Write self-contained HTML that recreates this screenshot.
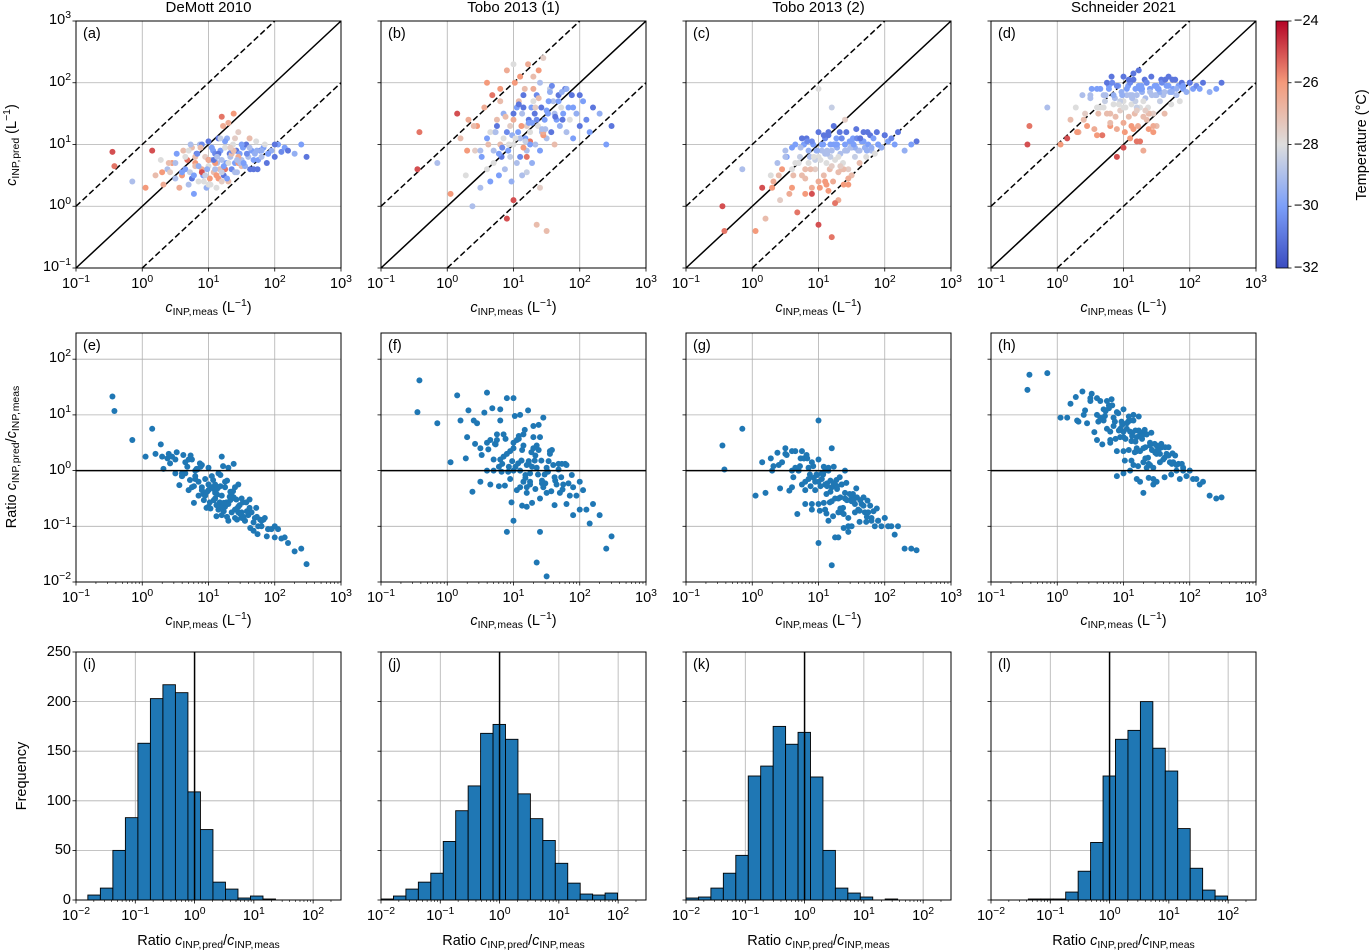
<!DOCTYPE html>
<html><head><meta charset="utf-8">
<style>
body{margin:0;background:#fff;}
#wrap{position:relative;width:1371px;height:952px;overflow:hidden;font-family:"Liberation Sans","DejaVu Sans",sans-serif;color:#000;}
svg{position:absolute;left:0;top:0;}
.t{position:absolute;white-space:nowrap;font-size:14.5px;line-height:1;}
.t sup{font-size:72%;vertical-align:0;position:relative;top:-0.55em;}
.t sub{font-size:72%;vertical-align:0;position:relative;top:0.3em;}
.c{transform:translateX(-50%);}
.r{transform:translateX(-100%);}
</style></head><body>
<div id="wrap">
<svg id="svg" width="1371" height="952" xmlns="http://www.w3.org/2000/svg"></svg>
</div>
<script>
// ---- shared data (log10 of concentrations) ----
const measLog = [-0.45,-0.42,-0.15,0.05,0.15,0.2,0.28,0.32,0.38,0.42,
0.45,0.5,0.52,0.56,0.6,0.62,0.65,0.68,0.7,0.72,
0.75,0.78,0.8,0.82,0.85,0.87,0.9,0.92,0.95,0.97,
1.0,1.0,1.02,1.05,1.07,1.08,1.1,1.12,1.13,1.15,
1.17,1.18,1.2,1.22,1.23,1.25,1.27,1.28,1.3,1.32,
1.33,1.35,1.37,1.38,1.4,1.42,1.43,1.45,1.47,1.5,
1.52,1.55,1.57,1.6,1.62,1.65,1.68,1.7,1.72,1.75,
1.78,1.8,1.83,1.85,1.88,1.9,1.95,2.0,2.05,2.1,
2.15,2.2,2.3,2.4,2.48,0.9,1.1,1.3,1.5,1.2,
0.6,0.8,1.0,1.15,1.25,1.35,1.45,1.0,1.2,1.4,
0.5,0.6,0.7,0.75,0.8,0.85,0.9,0.95,1.0,1.05,
1.1,1.15,1.2,1.25,1.3,1.35,1.4,1.45,1.5,1.55,
0.65,0.78,0.88,0.98,1.08,1.18,1.28,1.38,1.48,1.58,
1.62,1.68,1.74,1.8,1.9,2.0,0.3,0.4,1.03,1.13,
1.23,1.33,1.43,0.93,0.83,0.73,1.53,1.63,1.73,1.12];
const temperature = [-25,-25.5,-29,-26,-25,-27,-28,-26.5,-29,-27.5,
-26,-29,-30,-26.5,-28,-27,-30,-25.5,-29,-28.5,
-27,-30,-26,-31,-28,-29,-26.5,-30,-27.5,-29.5,
-28,-31,-26,-29,-30,-27,-30.5,-28,-29,-31,
-27,-30,-29,-26.5,-31,-28,-30,-29.5,-27,-31,
-29,-30.5,-28,-26,-30,-31,-29,-27.5,-30,-29,
-30,-28.5,-31,-29,-27,-30,-31,-29.5,-28,-30,
-31,-29,-30,-28,-31,-30,-29.5,-31,-30,-30.5,
-30,-31,-29.5,-30,-31,-25,-26,-26.5,-27,-25.5,
-26,-27,-25,-26,-25.5,-27,-26,-28,-28.5,-27.5,
-29,-30,-28,-31,-27,-29.5,-30.5,-28.5,-26.5,-30,
-29,-31,-27.5,-30,-28,-30.5,-29,-26.5,-30,-29.5,
-28,-30,-27,-29.5,-31,-28.5,-30,-27,-29,-30.5,
-29,-30,-31,-29.5,-30,-31,-26,-27,-28,-29,
-30,-27.5,-29,-28,-30.5,-29,-30,-31,-29.5,-26];
const predDeMott = [0.88,0.65,0.4,0.3,0.9,0.5,0.75,0.35,0.6,0.55,
0.7,0.45,0.85,0.3,0.5,0.9,0.6,0.75,0.35,0.55,
0.95,0.2,0.7,0.85,0.4,1.0,0.6,0.5,0.8,0.3,
0.65,1.05,0.45,0.75,0.9,0.55,0.85,0.3,0.7,1.1,
0.6,0.9,0.75,1.3,0.5,0.95,0.7,1.1,0.4,0.85,
0.8,0.6,1.0,1.5,0.7,0.9,0.55,1.2,0.85,0.75,
0.95,0.65,1.0,0.8,1.1,0.9,0.6,0.85,1.05,0.75,
0.9,0.8,0.95,1.0,0.7,0.85,0.9,0.8,1.0,0.88,
0.95,0.9,0.85,1.0,0.8,0.55,0.7,1.35,0.65,1.45,
0.5,0.65,0.75,0.45,0.6,0.85,0.7,0.35,0.55,1.1,
0.7,0.55,0.9,0.45,0.8,0.65,1.0,0.5,0.75,0.95,
0.6,0.85,0.4,1.05,0.7,0.9,0.55,0.8,1.0,0.65,
0.8,0.5,0.95,0.6,0.75,1.1,0.45,0.9,0.7,0.85,
0.95,0.75,0.6,0.9,0.85,1.0,0.55,0.7,0.35,0.8,
0.65,0.95,0.75,0.4,0.85,1.0,0.7,0.6,0.9,0.5];
const predTobo1 = [0.6,1.2,0.7,0.2,1.5,1.1,0.5,1.4,0.0,0.9,
1.3,0.3,0.8,1.6,0.6,1.0,0.4,1.8,0.9,1.2,
1.4,0.5,1.9,0.8,1.1,0.6,2.2,0.9,1.3,0.4,
1.0,1.5,2.0,0.7,1.2,1.7,0.8,1.3,0.5,1.6,
1.9,1.1,0.9,2.3,1.4,1.2,1.6,0.7,2.1,1.5,
1.0,1.8,1.3,2.2,0.9,1.6,1.2,2.4,1.4,1.1,
1.5,1.9,1.2,1.7,1.0,1.4,1.8,1.3,1.6,1.5,
1.9,1.2,1.6,1.4,1.8,1.1,1.5,1.3,1.7,1.4,
1.2,1.6,1.5,1.0,1.3,-0.2,2.1,1.9,-0.4,0.8,
2.0,1.7,0.1,0.95,1.05,-0.3,1.15,2.3,0.55,0.3,
0.9,1.1,0.7,1.3,1.0,1.5,1.2,0.8,1.4,1.6,
1.1,1.8,1.3,1.0,1.7,1.4,2.0,1.2,1.55,1.85,
1.2,0.85,1.45,1.15,1.65,1.05,1.35,1.75,1.25,1.95,
1.5,1.7,1.4,1.9,1.6,1.8,0.9,1.3,1.1,1.5,
1.35,1.6,1.25,1.0,0.95,1.2,1.7,1.45,1.85,1.3];
const predTobo2 = [0.0,-0.4,0.6,-0.4,0.3,-0.2,0.5,0.4,0.7,0.1,
0.6,0.9,0.8,0.2,0.6,0.5,1.0,-0.1,0.7,0.8,
0.5,1.0,0.2,1.1,0.7,0.8,0.3,1.0,0.6,0.9,
0.8,1.2,0.3,0.9,1.0,0.5,1.1,0.7,0.9,1.2,
0.6,1.0,0.9,0.4,1.3,0.75,1.1,0.95,0.55,1.2,
0.85,1.1,0.7,0.35,1.0,1.2,0.9,0.6,1.05,0.95,
1.1,0.8,1.25,0.9,0.7,1.05,1.2,0.95,0.8,1.0,
1.15,0.9,1.1,0.85,1.2,1.0,0.95,1.15,1.05,1.1,
1.0,1.2,0.9,1.0,1.05,0.2,0.4,0.1,0.5,-0.5,
0.3,0.45,-0.3,0.25,0.05,0.6,0.35,1.9,1.6,1.4,
0.8,0.95,0.7,1.1,0.6,0.9,1.05,0.75,0.4,1.0,
0.85,1.15,0.65,1.0,0.8,1.1,0.9,0.45,1.05,0.95,
0.7,1.0,0.6,0.9,1.15,0.8,1.0,0.6,0.95,1.1,
0.9,1.05,1.2,0.95,1.0,1.15,0.3,0.5,0.75,0.85,
1.0,0.65,0.9,0.8,1.05,0.95,1.0,1.1,0.9,0.35];
const predSchneider = [1.0,1.3,1.6,1.0,1.1,1.4,1.6,1.2,1.8,1.5,
1.3,1.8,1.9,1.25,1.6,1.5,1.9,1.15,1.8,1.7,
1.5,1.95,1.3,2.1,1.65,1.75,1.25,1.95,1.55,1.85,
1.6,2.1,1.2,1.8,1.95,1.45,2.0,1.65,1.8,2.15,
1.5,1.9,1.8,1.3,2.2,1.6,1.95,1.85,1.45,2.05,
1.75,2.0,1.6,1.25,1.9,2.1,1.8,1.5,1.95,1.8,
1.9,1.7,2.05,1.8,1.5,1.95,2.1,1.85,1.65,1.9,
2.05,1.8,1.95,1.7,2.0,1.9,1.85,2.0,1.9,1.95,
1.9,2.0,1.85,1.9,2.0,0.8,1.1,0.9,1.3,1.05,
1.15,1.35,0.95,1.25,1.05,1.4,1.2,1.7,1.6,1.5,
1.75,1.9,1.6,2.0,1.5,1.8,1.95,1.7,1.35,1.9,
1.8,2.05,1.55,1.9,1.7,2.0,1.85,1.3,1.95,1.85,
1.6,1.9,1.45,1.8,2.05,1.7,1.9,1.5,1.8,2.0,
1.85,1.95,2.05,1.9,1.95,2.0,1.2,1.4,1.6,1.75,
1.95,1.55,1.8,1.65,2.0,1.8,1.9,2.05,1.85,1.3];
// histogram data (log10 bin start, bin width, counts)
const histStarts = [-1.80,-2.0,-2.0,-2.0];
const histWidth = [0.211,0.21,0.21,0.21];
const countsDeMott = [5,12,50,83,158,203,217,209,109,71,18,11,2,4,1,0,0];
const countsTobo1 = [1,4,11,18,27,59,90,115,168,177,162,107,82,60,37,17,6,5,7];
const countsTobo2 = [2,3,12,27,45,125,135,175,157,169,124,50,12,7,3,0,1];
const countsSchneider = [0,0,0,1,1,1,8,29,58,125,162,171,200,153,130,72,32,10,4];
const titles = ["DeMott 2010","Tobo 2013 (1)","Tobo 2013 (2)","Schneider 2021"];
const colorbarTicks = [-24,-26,-28,-30,-32];
const freqTicks = [0,50,100,150,200,250];

const preds = [predDeMott,predTobo1,predTobo2,predSchneider];
const counts = [countsDeMott,countsTobo1,countsTobo2,countsSchneider];
const lefts=[76,381,686,991], W=265;
const R1={top:21,h:247,x0:-1,x1:3,y0:-1,y1:3};
const R2={top:333,h:249,x0:-1,x1:3,y0:-2,y1:2.47};
const R3={top:652,h:248,x0:-2,x1:2.47,y0:0,y1:250};
const svg=document.getElementById('svg'), wrap=document.getElementById('wrap');
const NS="http://www.w3.org/2000/svg";
function el(tag,attrs,parent){const e=document.createElementNS(NS,tag);for(const k in attrs)e.setAttribute(k,attrs[k]);(parent||svg).appendChild(e);return e;}
function txt(html,x,y,cls,extra){const d=document.createElement('div');d.className='t '+(cls||'');d.style.left=x+'px';d.style.top=y+'px';if(extra)d.style.cssText+=extra;d.innerHTML=html;wrap.appendChild(d);return d;}
function sx(R,left,v){return left+(v-R.x0)/(R.x1-R.x0)*W;}
function sy(R,v){return R.top+R.h-(v-R.y0)/(R.y1-R.y0)*R.h;}
function lerp(a,b,t){return a+(b-a)*t;}
const stops=[[59,76,192],[124,159,249],[221,221,221],[244,154,123],[180,4,38]];
function cw(T){let t=Math.max(0,Math.min(1,(T+32)/8))*4;const i=Math.min(3,Math.floor(t)),f=t-i;const a=stops[i],b=stops[i+1];return `rgb(${Math.round(lerp(a[0],b[0],f))},${Math.round(lerp(a[1],b[1],f))},${Math.round(lerp(a[2],b[2],f))})`;}
function pow(e){return '10<sup>'+(e<0?'−'+(-e):e)+'</sup>';}
const letters='abcdefghijkl';
const xlab='<i>c</i><sub>INP,&#8202;meas</sub> (L<sup>−1</sup>)';
const ratioLab='Ratio <i>c</i><sub>INP,&#8202;pred</sub>/<i>c</i><sub>INP,&#8202;meas</sub>';

function frame(R,left,name){
  const g=el('g',{});
  
  
  return g;
}
function grid(g,R,left,xs,ys){
  xs.forEach(v=>{const x=sx(R,left,v);el('line',{x1:x,x2:x,y1:R.top,y2:R.top+R.h,stroke:'#b0b0b0','stroke-width':0.8},g);});
  ys.forEach(v=>{const y=sy(R,v);el('line',{x1:left,x2:left+W,y1:y,y2:y,stroke:'#b0b0b0','stroke-width':0.8},g);});
}
function border(g,R,left){el('rect',{x:left,y:R.top,width:W,height:R.h,fill:'none',stroke:'#000','stroke-width':1},g);}
function xticks(g,R,left,majors,minor){
  majors.forEach(v=>{const x=sx(R,left,v);el('line',{x1:x,x2:x,y1:R.top+R.h,y2:R.top+R.h+3.5,stroke:'#000','stroke-width':0.8},g);});
  if(minor){for(let d=Math.floor(R.x0);d<R.x1;d++)for(let m=2;m<10;m++){const v=d+Math.log10(m);if(v<R.x0||v>R.x1)continue;const x=sx(R,left,v);el('line',{x1:x,x2:x,y1:R.top+R.h,y2:R.top+R.h+2,stroke:'#000','stroke-width':0.6},g);}}
}
function yticks(g,R,left,majors){majors.forEach(v=>{const y=sy(R,v);el('line',{x1:left-3.5,x2:left,y1:y,y2:y,stroke:'#000','stroke-width':0.8},g);});}

for(let c=0;c<4;c++){
  const L=lefts[c], pr=preds[c];
  // ---- row 1 ----
  const g1=frame(R1,L,'scatter-panel-'+letters[c]);
  grid(g1,R1,L,[0,1,2],[0,1,2]);
  const d1=el('line',{x1:sx(R1,L,-1),y1:sy(R1,-1),x2:sx(R1,L,3),y2:sy(R1,3),stroke:'#000','stroke-width':1.5},g1);
  
  
  const d2=el('line',{x1:sx(R1,L,-1),y1:sy(R1,0),x2:sx(R1,L,2),y2:sy(R1,3),stroke:'#000','stroke-width':1.5,'stroke-dasharray':'6,3'},g1);
  
  
  const d3=el('line',{x1:sx(R1,L,0),y1:sy(R1,-1),x2:sx(R1,L,3),y2:sy(R1,2),stroke:'#000','stroke-width':1.5,'stroke-dasharray':'6,3'},g1);
  
  
  for(let i=0;i<measLog.length;i++){if(pr[i]===undefined)continue;
    const p=el('circle',{cx:sx(R1,L,measLog[i]),cy:sy(R1,pr[i]),r:3,fill:cw(temperature[i])},g1);
    
    }
  xticks(g1,R1,L,[-1,0,1,2,3],false); yticks(g1,R1,L,[-1,0,1,2,3]); border(g1,R1,L);
  [-1,0,1,2,3].forEach(v=>{const t=txt(pow(v),sx(R1,L,v),R1.top+R1.h+9,'c');
    
    });
  let t=txt(xlab,L+W/2,301,'c');
  
  
  t=txt(titles[c],L+W/2,0,'c','font-size:15px;');
  
  
  t=txt('('+letters[c]+')',L+7,R1.top+6,'');
  
  

  // ---- row 2 ----
  const g2=frame(R2,L,'ratio-panel-'+letters[c+4]);
  grid(g2,R2,L,[0,1,2],[-1,0,1,2]);
  for(let i=0;i<measLog.length;i++){if(pr[i]===undefined)continue;
    const p=el('circle',{cx:sx(R2,L,measLog[i]),cy:sy(R2,pr[i]-measLog[i]),r:3,fill:'#1f77b4'},g2);
    
    }
  const h=el('line',{x1:L,x2:L+W,y1:sy(R2,0),y2:sy(R2,0),stroke:'#000','stroke-width':1.5},g2);
  
  
  xticks(g2,R2,L,[-1,0,1,2,3],true); yticks(g2,R2,L,[-2,-1,0,1,2]); border(g2,R2,L);
  [-1,0,1,2,3].forEach(v=>{const t=txt(pow(v),sx(R2,L,v),R2.top+R2.h+9,'c');
    
    });
  t=txt(xlab,L+W/2,614,'c');
  
  
  t=txt('('+letters[c+4]+')',L+7,R2.top+6,'');
  
  

  // ---- row 3 ----
  const g3=frame(R3,L,'histogram-panel-'+letters[c+8]);
  grid(g3,R3,L,[-1,0,1,2],[50,100,150,200]);
  const cs=counts[c];
  for(let b=0;b<cs.length;b++){const a=histStarts[c]+b*histWidth[c];const x0=sx(R3,L,a),x1=sx(R3,L,a+histWidth[c]);
    const r=el('rect',{x:x0,y:sy(R3,cs[b]),width:x1-x0,height:sy(R3,0)-sy(R3,cs[b]),fill:'#1f77b4',stroke:'#000','stroke-width':0.9},g3);
    
    }
  const v=el('line',{x1:sx(R3,L,0),x2:sx(R3,L,0),y1:R3.top,y2:R3.top+R3.h,stroke:'#000','stroke-width':1.5},g3);
  
  
  xticks(g3,R3,L,[-2,-1,0,1,2],true); yticks(g3,R3,L,freqTicks); border(g3,R3,L);
  [-2,-1,0,1,2].forEach(v=>{const t=txt(pow(v),sx(R3,L,v),R3.top+R3.h+9,'c');
    
    });
  t=txt(ratioLab,L+W/2,934,'c');
  
  
  t=txt('('+letters[c+8]+')',L+7,R3.top+6,'');
  
  
}
// y tick labels (first column)
[-1,0,1,2,3].forEach(v=>{const t=txt(pow(v),71,sy(R1,v)-8,'r');
  
  });
[-2,-1,0,1,2].forEach(v=>{const t=txt(pow(v),71,sy(R2,v)-8,'r');
  
  });
freqTicks.forEach(v=>{const t=txt(String(v),71,sy(R3,v)-7,'r');
  
  });
let yl=txt('<i>c</i><sub>INP,&#8202;pred</sub> (L<sup>−1</sup>)',12,145,'','transform:translate(-50%,-50%) rotate(-90deg);');


yl=txt(ratioLab,12,457,'','transform:translate(-50%,-50%) rotate(-90deg);');


yl=txt('Frequency',22,776,'','transform:translate(-50%,-50%) rotate(-90deg);');


// colorbar
const defs=el('defs',{});
const lg=el('linearGradient',{id:'cb',x1:0,y1:1,x2:0,y2:0},defs);
stops.forEach((s,i)=>el('stop',{offset:i/4,'stop-color':`rgb(${s.join(',')})`},lg));
const cb=el('rect',{x:1276,y:21,width:12,height:247,fill:'url(#cb)',stroke:'#000','stroke-width':0.8});


colorbarTicks.forEach(T=>{const y=21+(-24-T)/8*247;el('line',{x1:1288,x2:1291.5,y1:y,y2:y,stroke:'#000','stroke-width':0.8});
  const t=txt('−'+(-T),1294,y-7,'');
  
  });
yl=txt('Temperature (°C)',1362,145,'','transform:translate(-50%,-50%) rotate(-90deg);');


</script>
</body></html>
